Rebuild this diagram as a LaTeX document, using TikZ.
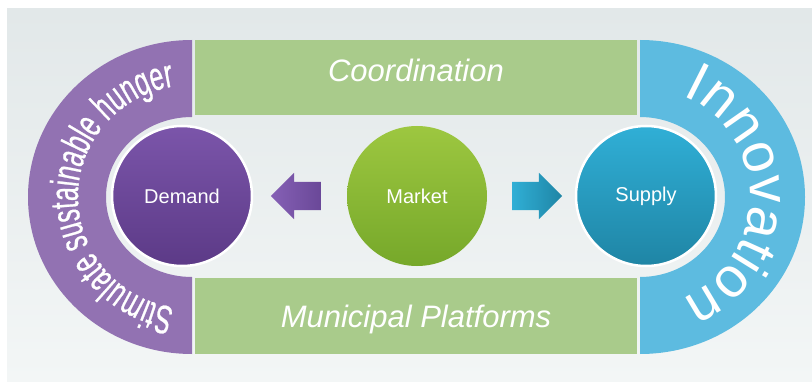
\documentclass[tikz,border=0pt]{standalone}
\usepackage{fontspec}
\setmainfont{Liberation Sans}
\newfontfamily\narrowfont[FakeStretch=0.62,FakeBold=0.6]{Liberation Sans}
\usetikzlibrary{shapes,arrows,decorations.text}

\definecolor{bgtop}{HTML}{E2E8E9}
\definecolor{bgbottom}{HTML}{F3F6F6}
\definecolor{ringpurple}{HTML}{9272B2}
\definecolor{ringblue}{HTML}{5DBBE0}
\definecolor{bargreen}{HTML}{A9CB8B}
\definecolor{demandtop}{HTML}{7B55AA}
\definecolor{demandbottom}{HTML}{5C3A87}
\definecolor{markettop}{HTML}{9DC740}
\definecolor{marketbottom}{HTML}{76A82A}
\definecolor{supplytop}{HTML}{30AFD6}
\definecolor{supplybottom}{HTML}{1F85A5}
\definecolor{arrowpurpleA}{HTML}{8560B5}
\definecolor{arrowpurpleB}{HTML}{6A4898}

\tikzstyle{ball}=[circle, minimum size=140pt, inner sep=0pt, text=white, font=\fontsize{20}{20}\selectfont]
\tikzstyle{halo}=[draw=white, line width=2.5pt]
\tikzstyle{bartext}=[text=white, anchor=base, font=\itshape\fontsize{31}{31}\selectfont]
\tikzstyle{blockarrow}=[single arrow, minimum height=50pt, minimum width=46pt, single arrow head extend=9pt, inner xsep=0pt, inner ysep=14pt]
\tikzstyle{ringtext}=[decorate, decoration={text along path, text align=center, text color=white}]

\begin{document}
\begin{tikzpicture}[x=1pt,y=1pt]

\fill[white] (0,0) rectangle (812,381);
\shade[top color=bgtop, bottom color=bgbottom] (7,0) rectangle (812,372);
\useasboundingbox (0,0) rectangle (812,381);

% outer rings
\fill[ringpurple] (192,341) arc[start angle=90, end angle=270, x radius=164, y radius=157]
  -- (192,104) arc[start angle=270, end angle=90, x radius=86, y radius=80] -- cycle;
\fill[ringblue] (640,341) arc[start angle=90, end angle=-90, x radius=165, y radius=157]
  -- (640,104) arc[start angle=-90, end angle=90, x radius=85, y radius=80] -- cycle;

\path[ringtext, decoration={text={|\narrowfont\fontsize{40}{40}\selectfont|Stimulate sustainable hunger}}]
  (192,72) arc[start angle=270, end angle=90, x radius=114, y radius=112];
\path[ringtext, decoration={text={|\fontsize{56}{56}\selectfont|Innovation}}]
  (640,294) arc[start angle=90, end angle=-90, x radius=110, y radius=110];

% bars
\fill[bargreen] (195,266) rectangle (637,341);
\fill[bargreen] (195,27) rectangle (637,103);
\node (coordination) [bartext] at (416,299) {Coordination};
\node (platforms) [bartext] at (416,54) {Municipal Platforms};

% circles
\node (market) [ball, top color=markettop, bottom color=marketbottom] at (417,185) {Market};
\node (demand) [ball, halo, top color=demandtop, bottom color=demandbottom, left of=market, node distance=235pt] {Demand};
\node (supply) [ball, halo, top color=supplytop, bottom color=supplybottom, right of=market, node distance=229pt] {Supply};

\node (toleft) [blockarrow, shape border rotate=180, left color=arrowpurpleA, right color=arrowpurpleB, left of=market, node distance=114pt] {};
\node (toright) [blockarrow, left color=supplytop, right color=supplybottom, right of=market, node distance=113pt] {};

\end{tikzpicture}
\end{document}
